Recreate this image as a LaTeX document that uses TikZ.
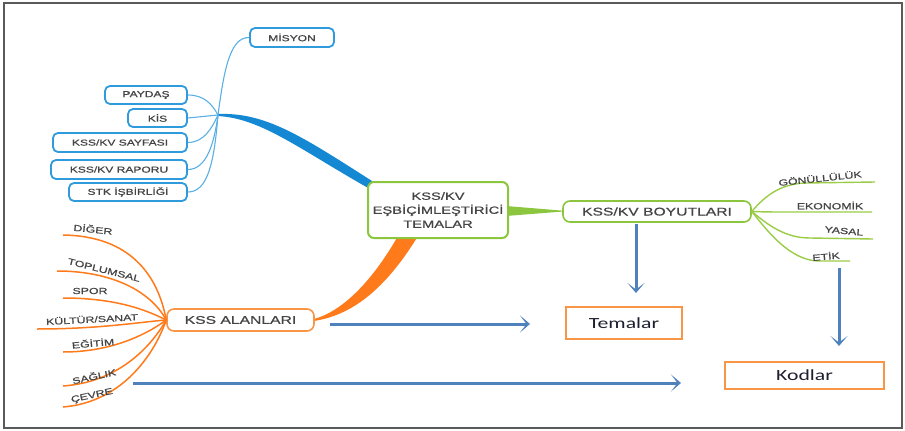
\documentclass[tikz,border=0pt]{standalone}
\usepackage{fontspec}
\usepackage{graphicx}
\setmainfont{Liberation Sans}
\newfontfamily\mapfont[FakeStretch=1.4,FakeBold=0.7]{Liberation Sans}
\newfontfamily\plainmap[FakeBold=0.7]{Liberation Sans}
\newfontfamily\boxfont[FakeStretch=1.4]{Carlito}
\newcommand{\wide}[1]{\scalebox{1.4}[1]{#1}}
\usetikzlibrary{arrows.meta,calc}

\definecolor{mapblue}{HTML}{1488D2}
\definecolor{bluerim}{HTML}{2F9BDC}
\definecolor{twigblue}{HTML}{5AB0E4}
\definecolor{mapgreen}{HTML}{8CC63F}
\definecolor{sprigreen}{HTML}{9ACD45}
\definecolor{maporange}{HTML}{FF7A1A}
\definecolor{boxorange}{HTML}{F79646}
\definecolor{arrowblue}{HTML}{4F81BD}
\definecolor{labelgray}{HTML}{454545}
\definecolor{framegray}{HTML}{5A5A5A}
\definecolor{boxtext}{HTML}{1E1E30}

\begin{document}
\begin{tikzpicture}[x=1pt,y=-1pt,
  bluebox/.style={draw=bluerim, line width=1.8pt, rounded corners=5pt, fill=white,
    inner sep=0pt, text=labelgray, font={\mapfont\fontsize{8.6}{10}\selectfont}},
  corebox/.style={draw=mapgreen, line width=2pt, rounded corners=6pt, fill=white,
    inner sep=0pt, align=center, text=labelgray, font={\mapfont\fontsize{10.5}{14}\selectfont}},
  greenbox/.style={draw=mapgreen, line width=1.6pt, rounded corners=7pt, fill=white,
    inner sep=0pt, text=labelgray, font={\mapfont\fontsize{11.2}{13}\selectfont}},
  orangebox/.style={draw=boxorange, line width=1.6pt, rounded corners=7pt, fill=white,
    inner sep=0pt, text=labelgray, font={\mapfont\fontsize{11.2}{13}\selectfont}},
  resultbox/.style={draw=boxorange, line width=1.5pt, fill=white, inner sep=0pt,
    text=boxtext, font={\boxfont\fontsize{15.5}{18}\selectfont}},
  twig/.style={twigblue, line width=1.1pt},
  sprig/.style={sprigreen, line width=1.4pt},
  frond/.style={maporange, line width=1.5pt},
  leaf/.style={inner sep=0pt, text=labelgray, font={\plainmap\fontsize{8.8}{10}\selectfont}},
  flow/.style={arrowblue, line width=3pt, -{Stealth[length=10pt,width=17pt,inset=6.5pt]}}]

\useasboundingbox (0,0) rectangle (905,431);
\draw[framegray, line width=2pt] (4,3) rectangle (902,428);

% tapered main limbs
\fill[mapblue] (217,114) .. controls (265,112) and (300,135) .. (372,181)
  -- (377,193) .. controls (300,150) and (262,118) .. (217,116) -- cycle;
\fill[maporange] (314,321) .. controls (345,316) and (380,298) .. (418,236)
  -- (398,236) .. controls (370,285) and (340,312) .. (314,319) -- cycle;
\fill[mapgreen] (506,206) -- (562,210.6) -- (562,211.6) -- (506,216) -- cycle;

% central theme and first-level topics
\node[corebox, minimum width=140pt, minimum height=56pt] (core) at (438,210)
  {KSS/KV\\EŞBİÇİMLEŞTİRİCİ\\TEMALAR};
\node[greenbox, minimum width=188pt, minimum height=21pt] (boyut) at (657,211.5) {KSS/KV BOYUTLARI};
\node[orangebox, minimum width=147pt, minimum height=22pt] (alan) at (240.5,320) {KSS ALANLARI};

% blue group
\node[bluebox, minimum width=84pt, minimum height=19pt] (misyon) at (292,37.5) {MİSYON};
\node[bluebox, minimum width=82pt, minimum height=18pt] (paydas) at (146,95) {PAYDAŞ};
\node[bluebox, minimum width=59pt, minimum height=18pt] (kis) at (157.5,118) {KİS};
\node[bluebox, minimum width=134pt, minimum height=19pt] (sayfa) at (120,142.5) {KSS/KV SAYFASI};
\node[bluebox, minimum width=136pt, minimum height=19pt] (rapor) at (119,169.5) {KSS/KV RAPORU};
\node[bluebox, minimum width=118pt, minimum height=18pt] (stk) at (128,192) {STK İŞBİRLİĞİ};

\coordinate (bhub) at (218,115);
\draw[twig] (misyon.west) .. controls (230,37) and (224,70) .. (bhub);
\draw[twig] (paydas.east) .. controls (204,95) and (212,104) .. (bhub);
\draw[twig] (kis.east) -- (bhub);
\draw[twig] (sayfa.east) .. controls (204,142.5) and (212,128) .. (bhub);
\draw[twig] (rapor.east) .. controls (206,169.5) and (214,145) .. (bhub);
\draw[twig] (stk.east) .. controls (207,192) and (214,165) .. (bhub);

% green sub-branches
\coordinate (g1) at (875,182);
\coordinate (g2) at (872,212);
\coordinate (g3) at (873,239);
\coordinate (g4) at (850,261);
\draw[sprig] (boyut.east) .. controls (765,196) and (780,184) .. (805,183) -- (g1);
\draw[sprig] (boyut.east) .. controls (765,212) and (775,212) .. (790,212) -- (g2);
\draw[sprig] (boyut.east) .. controls (768,225) and (785,238) .. (810,238) -- (g3);
\draw[sprig] (boyut.east) .. controls (768,232) and (790,260) .. (818,261) -- (g4);
\node[leaf, rotate=6]  (gon) at (820,178)   {\wide{GÖNÜLLÜLÜK}};
\node[leaf]            (eko) at (830,205.5) {\wide{EKONOMİK}};
\node[leaf, rotate=-5] (yas) at (844,231)   {\wide{YASAL}};
\node[leaf, rotate=5]  (eti) at (826,256)   {\wide{ETİK}};

% orange sub-branches
\coordinate (o1) at (63,235);
\coordinate (o2) at (57,271);
\coordinate (o3) at (63,298);
\coordinate (o4) at (37,329);
\coordinate (o5) at (63,352);
\coordinate (o6) at (63,386);
\coordinate (o7) at (63,407);
\draw[frond] (o1) .. controls (130,236) and (158,275) .. (alan.west);
\draw[frond] (o2) .. controls (110,271) and (150,290) .. (alan.west);
\draw[frond] (o3) .. controls (120,298) and (150,312) .. (alan.west);
\draw[frond] (o4) .. controls (100,329) and (140,322) .. (alan.west);
\draw[frond] (o5) .. controls (115,352) and (150,332) .. (alan.west);
\draw[frond] (o6) .. controls (120,382) and (152,345) .. (alan.west);
\draw[frond] (o7) .. controls (125,402) and (156,350) .. (alan.west);
\node[leaf, rotate=-6]  (dig) at (93,229)  {\wide{DİĞER}};
\node[leaf, rotate=-14] (top) at (104,270) {\wide{TOPLUMSAL}};
\node[leaf]             (spo) at (90,291)  {\wide{SPOR}};
\node[leaf, rotate=3]   (kul) at (92,319)  {\wide{KÜLTÜR/SANAT}};
\node[leaf, rotate=5]   (egi) at (93,343)  {\wide{EĞİTİM}};
\node[leaf, rotate=12]  (sag) at (94,376)  {\wide{SAĞLIK}};
\node[leaf, rotate=12]  (cev) at (92,396)  {\wide{ÇEVRE}};

% results
\node[resultbox, minimum width=116pt, minimum height=32pt] (tema) at (624,323) {Temalar};
\node[resultbox, minimum width=159pt, minimum height=27pt] (kod) at (804.5,375.5) {Kodlar};

\coordinate (a1s) at (330,324);
\coordinate (a1e) at (530,324);
\coordinate (a2s) at (133,383);
\coordinate (a2e) at (681,383);
\coordinate (a3s) at (636,224);
\coordinate (a3e) at (636,293);
\coordinate (a4s) at (839,268);
\coordinate (a4e) at (839,346);
\draw[flow] (a1s) -- (a1e);
\draw[flow] (a2s) -- (a2e);
\draw[flow] (a3s) -- (a3e);
\draw[flow] (a4s) -- (a4e);
\end{tikzpicture}
\end{document}
